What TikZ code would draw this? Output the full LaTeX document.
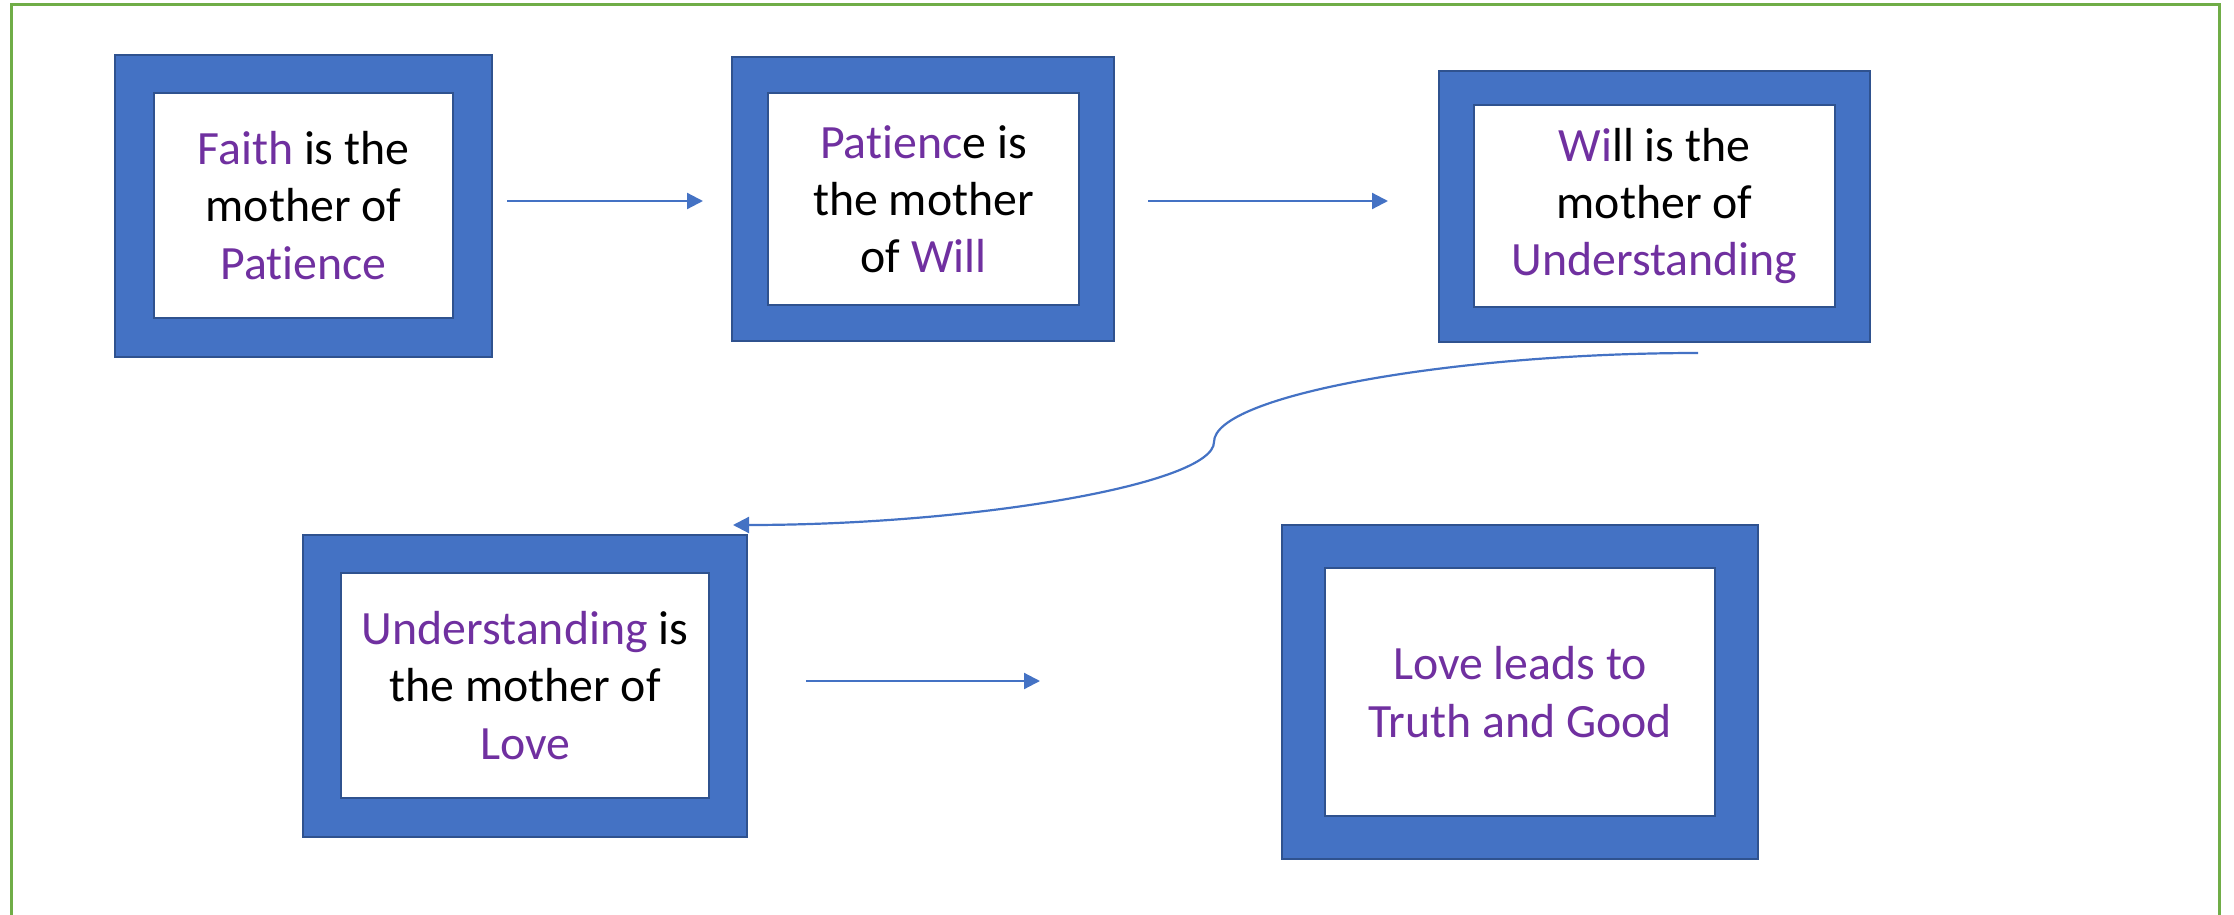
\documentclass[tikz,border=0pt]{standalone}
\usepackage{fontspec}
\setmainfont{Carlito}[Ligatures=NoCommon]
\usetikzlibrary{arrows.meta}
\definecolor{boxblue}{HTML}{4472C4}
\definecolor{edgeblue}{HTML}{2F528F}
\definecolor{vpurple}{HTML}{7030A0}
\definecolor{framegreen}{HTML}{70AD47}
\newcommand{\pp}[1]{\textcolor{vpurple}{#1}}
\tikzset{
  outerbox/.style={draw=edgeblue, line width=0.8pt, fill=boxblue, rectangle, inner sep=0pt},
  innerbox/.style={draw=edgeblue, line width=0.8pt, fill=white, rectangle, inner sep=0pt, align=center,
    font=\fontsize{23.9}{28.6}\selectfont},
  conn/.style={draw=boxblue, line width=1.1pt, -{Triangle[length=8pt,width=8pt]}},
}
\begin{document}
\begin{tikzpicture}[x=0.5pt,y=-0.5pt]
\useasboundingbox (0,0) rectangle (2234,915);
\draw[framegreen, line width=1.5pt] (11.5,915) -- (11.5,4.5) -- (2219,4.5) -- (2219,915);

\node[outerbox, minimum width=188.5pt, minimum height=151pt] (o1) at (303.5,206) {};
\node[innerbox, minimum width=149.5pt, minimum height=112.5pt] (b1) at (303.5,205.5) {\pp{Faith} is the\\mother of\\\pp{Patience}};

\node[outerbox, minimum width=191pt, minimum height=142pt] (o2) at (923,199) {};
\node[innerbox, minimum width=155.5pt, minimum height=106pt] (b2) at (923.5,199) {\pp{Patienc}e is\\the mother\\of \pp{Will}};

\node[outerbox, minimum width=215.5pt, minimum height=135.5pt] (o3) at (1654.5,206.5) {};
\node[innerbox, minimum width=180.5pt, minimum height=101pt] (b3) at (1654.5,206) {\pp{Wi}ll is the\\mother of\\\pp{Understanding}};

\node[outerbox, minimum width=222pt, minimum height=151pt] (o4) at (525,686) {};
\node[innerbox, minimum width=184pt, minimum height=112.5pt] (b4) at (525,685.5) {\pp{Understanding} is\\the mother of\\\pp{Love}};

\node[outerbox, minimum width=238pt, minimum height=167pt] (o5) at (1520,692) {};
\node[innerbox, minimum width=195pt, minimum height=124pt] (b5) at (1520,692) {\pp{Love leads to}\\\pp{Truth and Good}};

\coordinate (a1s) at (507,201);
\coordinate (a1e) at (703,201);
\coordinate (a2s) at (1148,201);
\coordinate (a2e) at (1388,201);
\coordinate (a3s) at (1698,353);
\coordinate (a3m) at (1214,442);
\coordinate (a3e) at (733,525);
\coordinate (a4s) at (806,681);
\coordinate (a4e) at (1040,681);

\draw[conn] (a1s) -- (a1e);
\draw[conn] (a2s) -- (a2e);
\draw[conn] (a3s) .. controls (1456,353) and (1214,395) .. (a3m)
  .. controls (1214,484) and (973,525) .. (a3e);
\draw[conn] (a4s) -- (a4e);
\end{tikzpicture}
\end{document}
